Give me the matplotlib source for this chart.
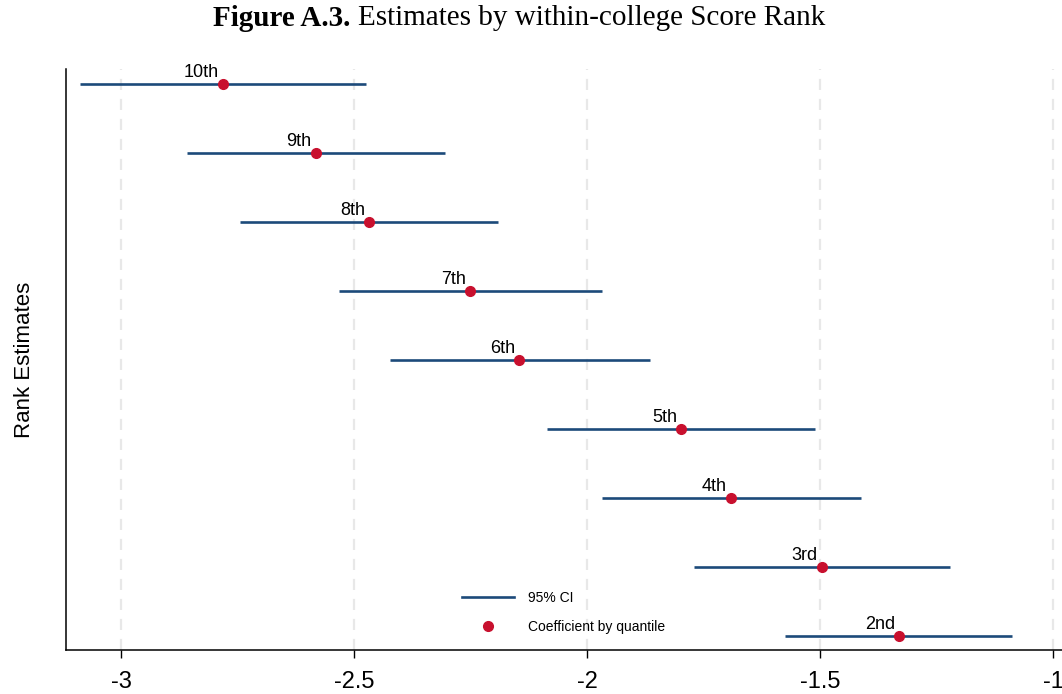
import numpy as np
import matplotlib.pyplot as plt
from matplotlib.lines import Line2D

# Rank-quantile coefficients with 95% confidence bounds
quantiles = ["10th", "9th", "8th", "7th", "6th", "5th", "4th", "3rd", "2nd"]
coef = [-2.781, -2.582, -2.468, -2.251, -2.146, -1.798, -1.691, -1.496, -1.330]
ci_low = [-3.088, -2.858, -2.745, -2.532, -2.423, -2.086, -1.968, -1.770, -1.575]
ci_high = [-2.474, -2.305, -2.191, -1.968, -1.865, -1.511, -1.412, -1.221, -1.088]
xticks = [-3, -2.5, -2, -1.5, -1]

LINE_COLOR = "#1c4a7a"
DOT_COLOR = "#c8102e"

plt.rcParams["font.family"] = ["Liberation Sans", "DejaVu Sans"]

W, H = 1062, 694
fig = plt.figure(figsize=(W / 100, H / 100), dpi=100)
ax = fig.add_axes([66 / W, (H - 650) / H, (W - 66) / W, (650 - 69) / H])

y = np.arange(len(quantiles))

# vertical dashed guides
for xt in xticks:
    ax.axvline(xt, color="#e8e8e8", lw=1.6, ls=(0, (5, 4)), zorder=0)

ax.hlines(y, ci_low, ci_high, color=LINE_COLOR, lw=1.9, zorder=2)
ax.plot(coef, y, "o", color=DOT_COLOR, ms=7, zorder=3)

for yi, c, lab in zip(y, coef, quantiles):
    ax.annotate(lab, (c, yi), xytext=(-3, 2.5), textcoords="offset points",
                ha="right", va="bottom", fontsize=13)

ax.set_xlim(-3.118, -0.981)
ax.set_ylim(8.2, -0.22)
ax.set_xticks(xticks)
ax.set_xticklabels(["-3", "-2.5", "-2", "-1.5", "-1"], fontsize=17)
ax.tick_params(axis="x", length=6, width=1, direction="out", pad=9)
ax.set_yticks([])
ax.spines["top"].set_visible(False)
ax.spines["right"].set_visible(False)
ax.spines["left"].set_linewidth(1.1)
ax.spines["bottom"].set_linewidth(1.1)
ax.set_ylabel("Rank Estimates", fontsize=16, labelpad=22)

handles = [
    Line2D([], [], color=LINE_COLOR, lw=1.9),
    Line2D([], [], marker="o", ls="", color=DOT_COLOR, ms=7),
]
ax.legend(handles, ["95% CI", "Coefficient by quantile"], frameon=False,
          fontsize=10, loc="upper left",
          bbox_to_anchor=(390 / (W - 66), 1 - (585 - 69) / (650 - 69)),
          handlelength=3.8, labelspacing=1.1, handletextpad=1.0, borderaxespad=0)

# title: bold figure number followed by regular text
t1 = fig.text(213 / W, 1 - 18 / H, "Figure A.3.", family="Liberation Serif",
              fontsize=21, fontweight="bold", ha="left", va="center")
fig.canvas.draw()
bb = t1.get_window_extent()
fig.text((bb.x1 + 8) / W, 1 - 18 / H, "Estimates by within-college Score Rank",
         family="Liberation Serif", fontsize=21, ha="left", va="center")

fig.savefig("out.png", dpi=100)
